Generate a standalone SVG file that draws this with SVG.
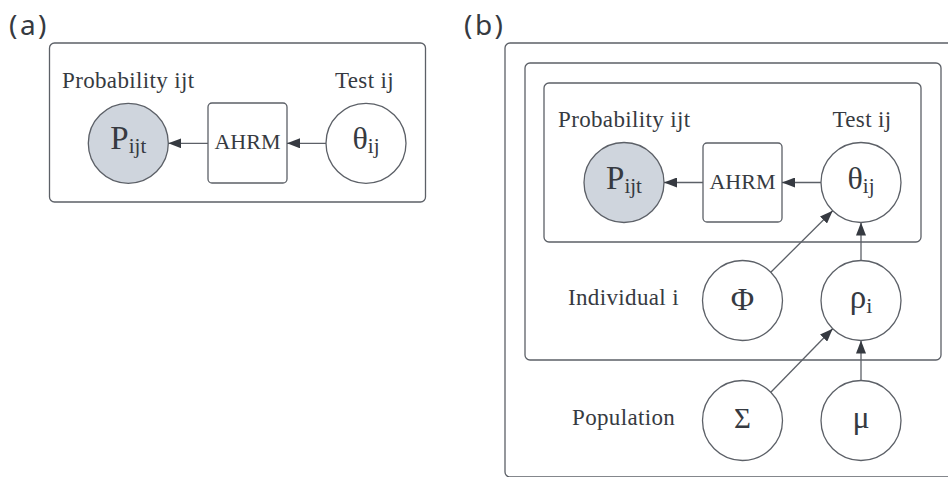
<svg xmlns="http://www.w3.org/2000/svg" width="948" height="477" viewBox="0 0 948 477">
<defs>
<style>
.plate{fill:none;stroke:#5c6067;stroke-width:1.3}
.node{fill:#ffffff;stroke:#5c6067;stroke-width:1.3}
.obs{fill:#cfd5dd;stroke:#5c6067;stroke-width:1.3}
.lbl{font-family:"Liberation Serif","Times New Roman",serif;font-size:23px;fill:#363a41;letter-spacing:0.35px}
.ahrm{font-family:"Liberation Serif","Times New Roman",serif;font-size:22px;fill:#363a41;text-anchor:middle}
.sym{font-family:"Liberation Serif","Times New Roman",serif;fill:#363a41;text-anchor:middle}
.panel{font-family:"Noto Sans","Liberation Sans",sans-serif;font-size:28px;fill:#363a41;letter-spacing:2.5px}
.edge{fill:none;stroke:#5c6067;stroke-width:1.3;marker-end:url(#arr)}
</style>
<marker id="arr" viewBox="0 0 13 10" refX="13" refY="5" markerWidth="13" markerHeight="10" markerUnits="userSpaceOnUse" orient="auto">
<path d="M0,0 L13,5 L0,10 Z" fill="#363a41"/>
</marker>
</defs>
<text class="panel" x="9" y="35">(a)</text>
<text class="panel" x="464" y="35">(b)</text>

<!-- panel a -->
<g id="plate-a">
<rect class="plate" x="49.5" y="43" width="376" height="159" rx="5"/>
<text class="lbl" x="62" y="88">Probability ijt</text>
<text class="lbl" x="394" y="88" text-anchor="end">Test ij</text>
</g>
<g id="a-P">
<circle class="obs" cx="128.3" cy="143.3" r="40"/>
<text class="sym" x="128.3" y="149.3" font-size="33">P<tspan font-size="21" dy="4">ijt</tspan></text>
</g>
<g id="a-AHRM">
<rect class="node" x="208" y="103" width="79" height="80" rx="4"/>
<text class="ahrm" x="247.5" y="149">AHRM</text>
</g>
<g id="a-theta">
<circle class="node" cx="366" cy="143.3" r="40"/>
<text class="sym" x="366" y="149.3" font-size="32">θ<tspan font-size="21" dy="4">ij</tspan></text>
</g>

<!-- panel b -->
<g id="plate-population">
<rect class="plate" x="505" y="43" width="470" height="434" rx="5"/>
<text class="lbl" x="572" y="425">Population</text>
</g>
<g id="plate-individual">
<rect class="plate" x="525" y="63" width="416" height="297" rx="5"/>
<text class="lbl" x="568" y="305">Individual i</text>
</g>
<g id="plate-test">
<rect class="plate" x="544" y="83" width="377" height="159" rx="5"/>
<text class="lbl" x="558" y="127">Probability ijt</text>
<text class="lbl" x="891.5" y="127" text-anchor="end">Test ij</text>
</g>
<g id="b-P">
<circle class="obs" cx="624" cy="182.5" r="40"/>
<text class="sym" x="624" y="188.5" font-size="33">P<tspan font-size="21" dy="4">ijt</tspan></text>
</g>
<g id="b-AHRM">
<rect class="node" x="703" y="143" width="79" height="79" rx="4"/>
<text class="ahrm" x="742.5" y="189">AHRM</text>
</g>
<g id="b-theta">
<circle class="node" cx="861" cy="182.5" r="40"/>
<text class="sym" x="861" y="188.5" font-size="32">θ<tspan font-size="21" dy="4">ij</tspan></text>
</g>
<g id="b-Phi">
<circle class="node" cx="742.5" cy="300.5" r="40"/>
<text class="sym" x="742.5" y="309.5" font-size="32">Φ</text>
</g>
<g id="b-rho">
<circle class="node" cx="861" cy="300.5" r="40"/>
<text class="sym" x="861" y="308" font-size="33">ρ<tspan font-size="22" dy="5">i</tspan></text>
</g>
<g id="b-Sigma">
<circle class="node" cx="742.5" cy="420.5" r="40"/>
<text class="sym" x="742.5" y="428" font-size="29">Σ</text>
</g>
<g id="b-mu">
<circle class="node" cx="861" cy="420.5" r="40"/>
<text class="sym" x="861" y="428" font-size="32">μ</text>
</g>

<g id="connectors">
<line class="edge" x1="326" y1="143.3" x2="287" y2="143.3"/>
<line class="edge" x1="208" y1="143.3" x2="168.3" y2="143.3"/>
<line class="edge" x1="821" y1="182.5" x2="782" y2="182.5"/>
<line class="edge" x1="703" y1="182.5" x2="664" y2="182.5"/>
<line class="edge" x1="770.8" y1="272.2" x2="832.7" y2="210.8"/>
<line class="edge" x1="861" y1="260.5" x2="861" y2="222.5"/>
<line class="edge" x1="770.8" y1="392.2" x2="832.7" y2="328.8"/>
<line class="edge" x1="861" y1="380.5" x2="861" y2="340.5"/>
</g>
</svg>
